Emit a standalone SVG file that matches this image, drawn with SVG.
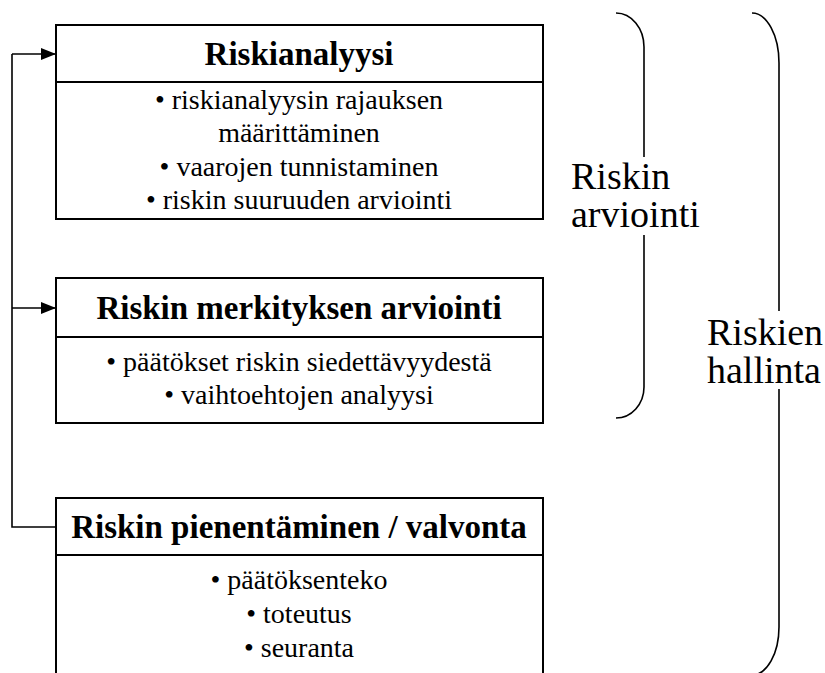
<svg xmlns="http://www.w3.org/2000/svg" width="825" height="673" viewBox="0 0 825 673">
  <style>
    .box { fill: #ffffff; stroke: #000000; stroke-width: 2; }
    .div { stroke: #000000; stroke-width: 2; }
    text { font-family: 'Liberation Serif', 'Times New Roman', Tinos, 'DejaVu Serif', serif; fill: #000000; }
    .title { font-weight: bold; font-size: 33px; text-anchor: middle; }
    .item { font-size: 28px; text-anchor: middle; }
    .label { font-size: 38px; }
    .wire { fill: none; stroke: #000000; stroke-width: 1.6; }
    .brace { fill: none; stroke: #000000; stroke-width: 1.6; }
  </style>
  <defs>
    <marker id="arrow" markerWidth="16" markerHeight="12" refX="15" refY="6" orient="auto" markerUnits="userSpaceOnUse">
      <path d="M0,0 L15,6 L0,12 Z" fill="#000000"/>
    </marker>
  </defs>
  <rect width="825" height="673" fill="#ffffff"/>

  <!-- Connectors: feedback loop from the bottom stage back to the first two -->
  <g id="connectors">
    <path class="wire" d="M56,527 L12,527 L12,54"/>
    <line class="wire" x1="12" y1="54" x2="56" y2="54" marker-end="url(#arrow)"/>
    <line class="wire" x1="12" y1="308" x2="56" y2="308" marker-end="url(#arrow)"/>
  </g>

  <g id="riskianalyysi">
    <rect class="box" x="56" y="25" width="487" height="194"/>
    <line class="div" x1="56" y1="82" x2="543" y2="82"/>
    <text class="title" x="299" y="65">Riskianalyysi</text>
    <text class="item" x="299" y="109">• riskianalyysin rajauksen</text>
    <text class="item" x="299" y="142">määrittäminen</text>
    <text class="item" x="299" y="176">• vaarojen tunnistaminen</text>
    <text class="item" x="299" y="209">• riskin suuruuden arviointi</text>
  </g>

  <g id="merkitys">
    <rect class="box" x="56" y="278" width="487" height="145"/>
    <line class="div" x1="56" y1="337" x2="543" y2="337"/>
    <text class="title" x="299" y="319">Riskin merkityksen arviointi</text>
    <text class="item" x="299" y="371">• päätökset riskin siedettävyydestä</text>
    <text class="item" x="299" y="404">• vaihtoehtojen analyysi</text>
  </g>

  <g id="pienentaminen">
    <rect class="box" x="56" y="498" width="487" height="200"/>
    <line class="div" x1="56" y1="555" x2="543" y2="555"/>
    <text class="title" x="299" y="538">Riskin pienentäminen / valvonta</text>
    <text class="item" x="299" y="589">• päätöksenteko</text>
    <text class="item" x="299" y="623">• toteutus</text>
    <text class="item" x="299" y="657">• seuranta</text>
  </g>

  <!-- Brace: risk assessment (first two stages) -->
  <g id="riskin-arviointi">
    <path class="brace" d="M616,13 A28,34 0 0 1 644,47 L644,157 M644,235 L644,387 A28,31 0 0 1 616,418"/>
    <text class="label"><tspan x="571" y="189">Riskin</tspan><tspan x="571" y="227">arviointi</tspan></text>
  </g>

  <!-- Brace: risk management (all stages) -->
  <g id="riskien-hallinta">
    <path class="brace" d="M752,13 A27,50 0 0 1 779,63 L779,311 M779,389 L779,627 A27,48 0 0 1 752,675"/>
    <text class="label"><tspan x="707" y="345">Riskien</tspan><tspan x="707" y="383">hallinta</tspan></text>
  </g>
</svg>
